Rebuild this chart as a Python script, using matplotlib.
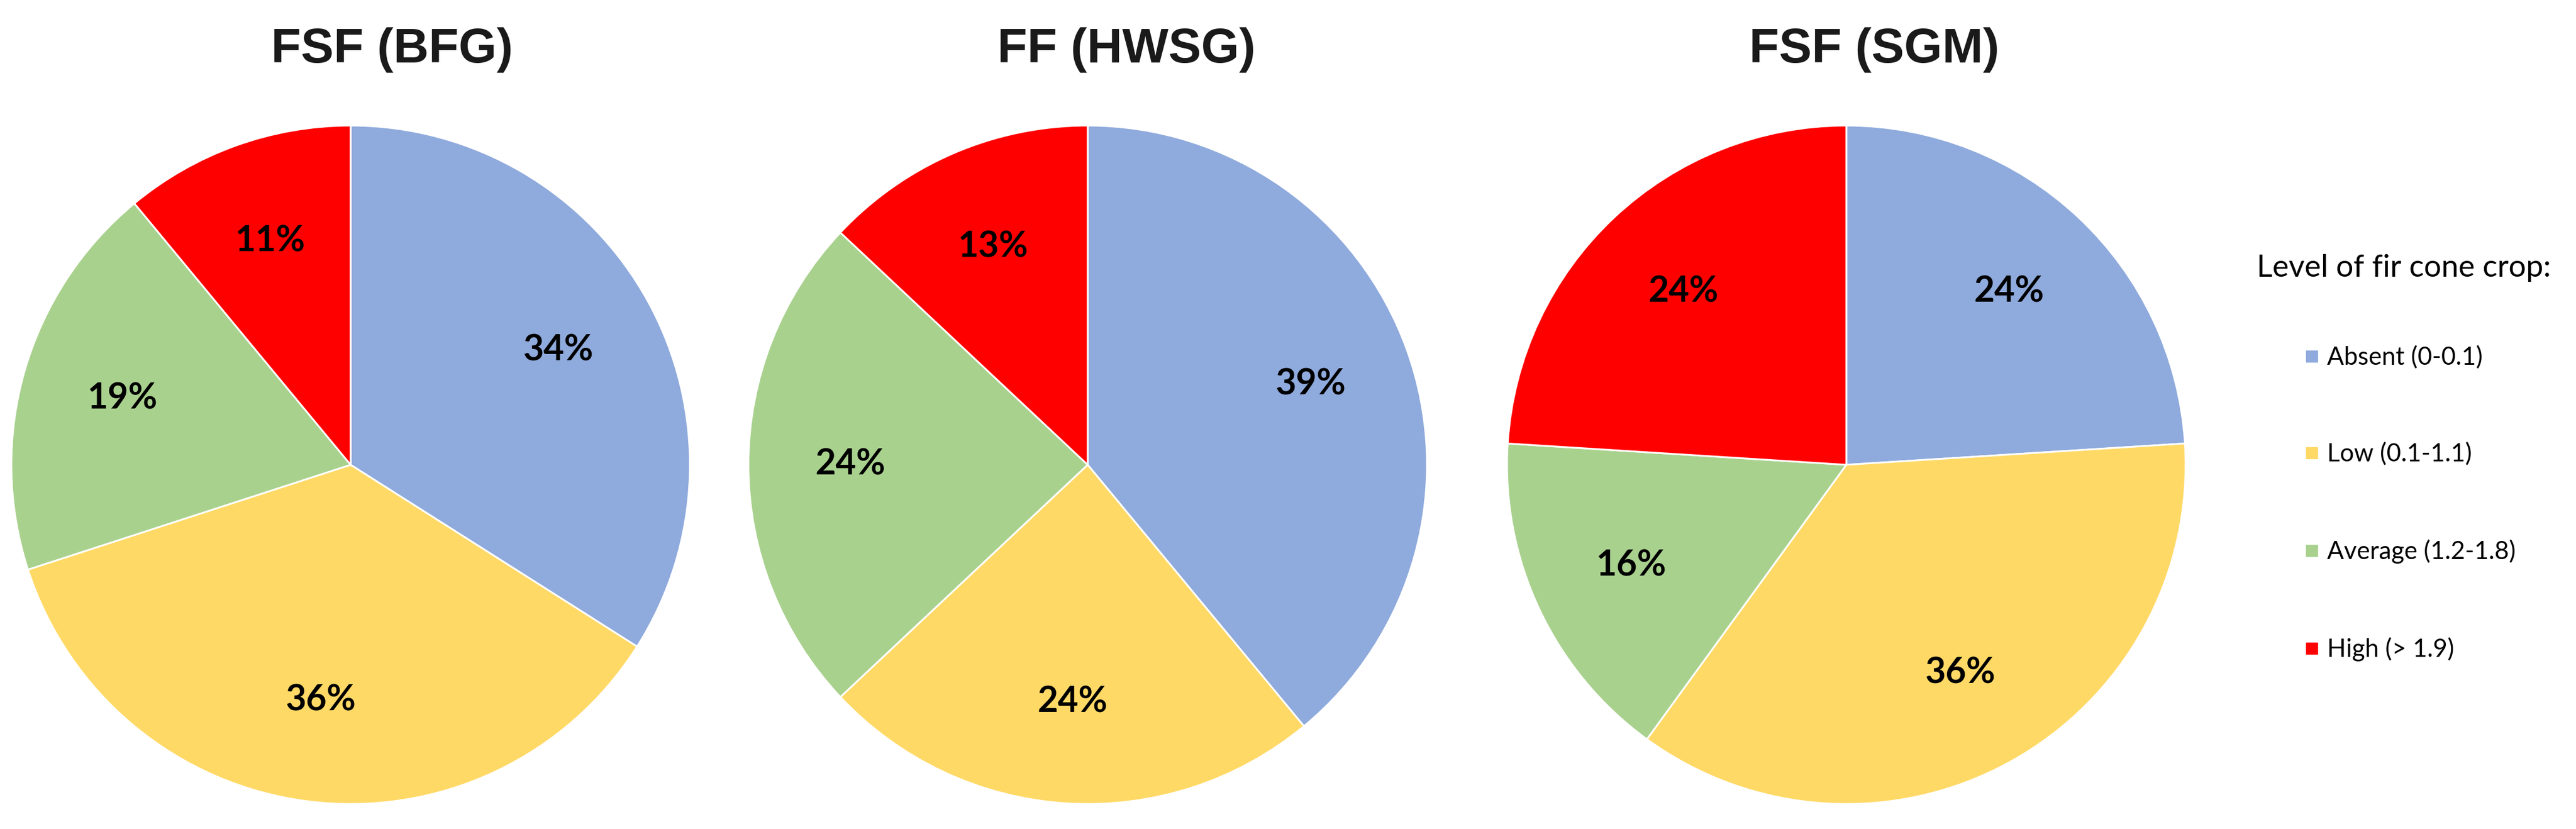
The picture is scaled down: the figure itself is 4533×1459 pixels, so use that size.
import matplotlib
matplotlib.use("Agg")
import matplotlib.pyplot as plt
from matplotlib.lines import Line2D

# ---- data ----
categories = ["Absent (0-0.1)", "Low (0.1-1.1)", "Average (1.2-1.8)", "High (> 1.9)"]
titles = ["FSF (BFG)", "FF (HWSG)", "FSF (SGM)"]
bfg_values = [34, 36, 19, 11]
hwsg_values = [39, 24, 24, 13]
sgm_values = [24, 36, 16, 24]
legend_title = "Level of fir cone crop:"

colors = ["#8FAADC", "#FFD966", "#A9D18E", "#FF0000"]

W, H = 4533, 1459
DPI = 100
fig = plt.figure(figsize=(W / DPI, H / DPI), dpi=DPI)
fig.patch.set_facecolor("white")

R = 597
cy = 818
centers_x = [617, 1914, 3249]
title_x = [690, 1982, 3298]
title_y = 88

label_font = dict(family=["Lato", "DejaVu Sans"], weight="bold", size=45, color="black")

for vals, cx, tx, title in zip([bfg_values, hwsg_values, sgm_values], centers_x, title_x, titles):
    ax = fig.add_axes([(cx - R) / W, (H - cy - R) / H, 2 * R / W, 2 * R / H])
    wedges, texts, autotexts = ax.pie(
        vals, colors=colors, startangle=90, counterclock=False,
        autopct=lambda p: f"{p:.0f}%", pctdistance=0.70,
        wedgeprops=dict(edgecolor="white", linewidth=2.2),
        textprops=label_font,
    )
    for w in wedges:
        w.set_clip_on(False)
    ax.set_xlim(-1, 1)
    ax.set_ylim(-1, 1)
    ax.set_aspect("equal")
    ax.axis("off")
    fig.text(tx / W, 1 - title_y / H, title, ha="center", va="center",
             family=["Liberation Sans", "DejaVu Sans"], weight="bold", size=62, color="#1a1a1a")

# legend
fig.text(3971 / W, 1 - 472 / H, legend_title, ha="left", va="center",
         family=["Lato", "DejaVu Sans"], size=39, color="black")
handles = [Line2D([], [], marker="s", linestyle="none", markersize=15,
                  markerfacecolor=c, markeredgecolor=c) for c in colors]
leg = fig.legend(handles, categories, loc="upper left",
                 bbox_to_anchor=(4056 / W, 1 - 609 / H), frameon=False,
                 prop=dict(family=["Lato", "DejaVu Sans"], size=31.5),
                 handlelength=0.55, handletextpad=0.35, labelspacing=2.95,
                 borderaxespad=0, borderpad=0)

fig.savefig("out.png", dpi=DPI, facecolor="white")
